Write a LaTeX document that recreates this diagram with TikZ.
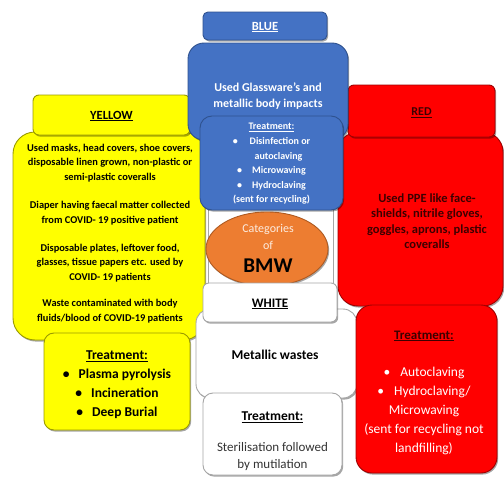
\documentclass[tikz,border=0pt]{standalone}
\usepackage{fontspec}
\setmainfont{Carlito}
\usetikzlibrary{shapes.geometric,shadows}
\definecolor{yelF}{HTML}{FFFF00}
\definecolor{yelD}{HTML}{9A9A00}
\definecolor{bluF}{HTML}{4472C4}
\definecolor{bluD}{HTML}{2F528F}
\definecolor{orF}{HTML}{ED7D31}
\definecolor{orD}{HTML}{AE5A21}
\definecolor{redF}{HTML}{FF0000}
\definecolor{redD}{HTML}{A00000}
\definecolor{redT}{HTML}{3C0000}
\definecolor{whD}{HTML}{A6A6A6}
\definecolor{txtG}{HTML}{333333}
\newcommand{\myul}[1]{\underline{#1}}
\newcommand{\fs}[2]{\fontsize{#1}{#2}\selectfont}
\begin{document}
\begin{tikzpicture}[x=1pt,y=-1pt,
  shad/.style={drop shadow={shadow xshift=1.2pt,shadow yshift=-1.6pt,opacity=0.35,fill=black}},
  box/.style={draw, rounded corners=#1, inner sep=0pt, line width=0.9pt, shad},
  ybox/.style={box=#1, fill=yelF, draw=yelD},
  bbox/.style={box=#1, fill=bluF, draw=bluD},
  rbox/.style={box=#1, fill=redF, draw=redD},
  wbox/.style={box=#1, fill=white, draw=whD},
  txt/.style={align=center, inner sep=0pt},
]
\useasboundingbox (0,0) rectangle (504,479);
\fill[white] (0,0) rectangle (504,479);

% bodies
\node[ybox=22pt, minimum width=192pt, minimum height=208pt] (ybody) at (109,236) {};
\node[rbox=20pt, minimum width=165pt, minimum height=174pt] (rbody) at (420.5,219) {};
\node[ybox=6pt, minimum width=157pt, minimum height=40pt] (yhead) at (111.5,115) {};
\node[rbox=6pt, minimum width=147pt, minimum height=52pt] (rhead) at (421.5,111) {};
\node[bbox=16pt, minimum width=160pt, minimum height=97pt] (bbody) at (268,91.5) {};
\node[bbox=5pt, minimum width=124pt, minimum height=28pt] (bhead) at (265,26) {};

% centre white panel and ellipse
\node[draw=whD, fill=white, line width=0.6pt, minimum width=125pt, minimum height=95pt, inner sep=0pt] (wpanel) at (270.5,252.5) {};
\node[bbox=12pt, minimum width=143pt, minimum height=94pt] (btreat) at (271.5,163) {};
\node[ellipse, draw=orD, fill=orF, line width=0.9pt, minimum width=122pt, minimum height=74pt, inner sep=0pt, shad] (ell) at (267,249) {};

% treatments
\node[ybox=10pt, minimum width=146pt, minimum height=97pt] (ytreat) at (117,381.5) {};
\node[wbox=14pt, minimum width=161pt, minimum height=89pt] (wbody) at (276.5,353.5) {};
\node[wbox=6pt, minimum width=134pt, minimum height=39pt] (whead) at (270,302.5) {};
\node[wbox=10pt, minimum width=139pt, minimum height=82pt] (wtreat) at (272.5,434) {};
\node[rbox=16pt, minimum width=141pt, minimum height=168pt] (rtreat) at (426.5,389) {};

% ---- texts ----
% yellow
\node[txt, font=\fs{12.5}{14}\bfseries] (ylab) at (111.5,116) {\myul{YELLOW}};
\node[txt, font=\fs{10.4}{14.5}\bfseries] (yp1) at (110,163) {Used masks, head covers, shoe covers,\\disposable linen grown, non-plastic or\\semi-plastic coveralls};
\node[txt, font=\fs{10.4}{14.5}\bfseries] (yp2) at (110,213) {Diaper having faecal matter collected\\from COVID- 19 positive patient};
\node[txt, font=\fs{10.4}{14.5}\bfseries] (yp3) at (110,263) {Disposable plates, leftover food,\\glasses, tissue papers etc. used by\\COVID- 19 patients};
\node[txt, font=\fs{10.4}{14.5}\bfseries] (yp4) at (110,311) {Waste contaminated with body\\fluids/blood of COVID-19 patients};
\node[txt, font=\fs{13.5}{19}\bfseries] (yt) at (117,385) {\myul{Treatment:}\\\textbullet\hspace{9pt}Plasma pyrolysis\\\textbullet\hspace{9pt}Incineration\\\textbullet\hspace{9pt}Deep Burial};

% blue
\node[txt, font=\fs{12.5}{14}\bfseries, text=white] (blab) at (265,27) {\myul{BLUE}};
\node[txt, font=\fs{12}{16}\bfseries, text=white] (bp) at (268,96) {Used Glassware's and\\metallic body impacts};
\node[txt, font=\fs{10}{14.6}\bfseries, text=white] (bt) at (271.5,164) {\myul{Treatment:}\\\textbullet\hspace{12pt}Disinfection or\\\hspace{14pt}autoclaving\\\textbullet\hspace{10pt}Microwaving\\\textbullet\hspace{10pt}Hydroclaving\\(sent for recycling)};

% ellipse
\node[txt, font=\fs{12}{17}, text=white!85!orF] (cat) at (268,237) {Categories\\of};
\node[txt, font=\fs{21}{22}\bfseries] (bmw) at (268,266) {BMW};

% white
\node[txt, font=\fs{13}{14}\bfseries] (wlab) at (270,304) {\myul{WHITE}};
\node[txt, font=\fs{13.5}{15}\bfseries] (wp) at (275,355) {Metallic wastes};
\node[txt, font=\fs{13.5}{15}\bfseries] (wtl) at (272.5,417) {\myul{Treatment:}};
\node[txt, font=\fs{13}{17}, text=txtG] (wt) at (272.5,457) {Sterilisation followed\\by mutilation};

% red
\node[txt, font=\fs{12}{14}\bfseries, text=redT] (rlab) at (421.5,113) {\myul{RED}};
\node[txt, font=\fs{12.5}{15.5}\bfseries, text=redT] (rp) at (427,221) {Used PPE like face-\\shields, nitrile gloves,\\goggles, aprons, plastic\\coveralls};
\node[txt, font=\fs{13}{15}\bfseries, text=redT] (rtl) at (424,336) {\myul{Treatment:}};
\node[txt, font=\fs{13.5}{19}, text=white] (rt) at (424,411) {\textbullet\hspace{10pt}Autoclaving\\\textbullet\hspace{10pt}Hydroclaving/\\Microwaving\\(sent for recycling not\\landfilling)};
\end{tikzpicture}
\end{document}
